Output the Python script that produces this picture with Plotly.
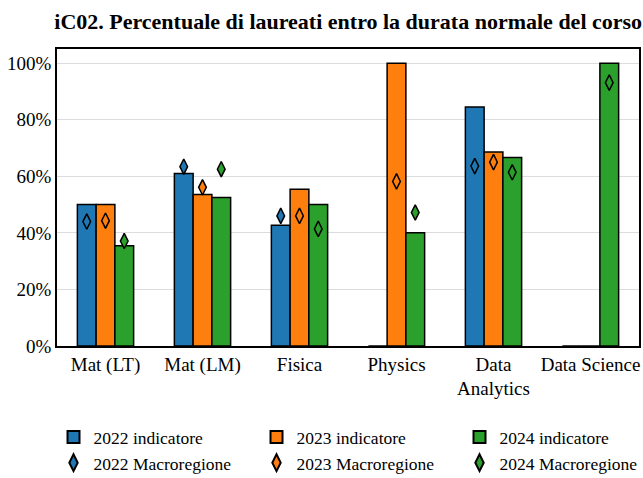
import plotly.graph_objects as go

categories = ["Mat (LT)", "Mat (LM)", "Fisica", "Physics", "Data<br>Analytics", "Data Science"]
years = ["2022", "2023", "2024"]
colors = ["#1f77b4", "#ff7f0e", "#2ca02c"]

ind_2022 = [50.0, 61.0, 42.7, 0.0, 84.5, 0.0]
ind_2023 = [50.0, 53.6, 55.4, 100.0, 68.6, 0.0]
ind_2024 = [35.4, 52.5, 50.0, 40.0, 66.6, 100.0]

mac_2022 = [44.0, 63.4, 46.0, None, 63.6, None]
mac_2023 = [44.3, 56.1, 46.0, 58.2, 65.0, None]
mac_2024 = [37.1, 62.5, 41.4, 47.2, 61.4, 93.1]

y_ticks = [0, 20, 40, 60, 80, 100]
y_tick_labels = ["0%", "20%", "40%", "60%", "80%", "100%"]

indicators = [ind_2022, ind_2023, ind_2024]
macros = [mac_2022, mac_2023, mac_2024]

FONT = "Liberation Serif"

fig = go.Figure()
for y, c, vals in zip(years, colors, indicators):
    fig.add_trace(go.Bar(
        x=categories, y=vals, name=f"{y} indicatore",
        marker=dict(color=c, line=dict(color="black", width=1.5)),
        offsetgroup=y,
    ))
for y, c, vals in zip(years, colors, macros):
    fig.add_trace(go.Scatter(
        x=categories, y=vals, name=f"{y} Macroregione", mode="markers",
        marker=dict(symbol="diamond-tall", size=11, color=c,
                    line=dict(color="black", width=1.5)),
        offsetgroup=y,
    ))

fig.update_layout(
    width=643, height=478,
    margin=dict(l=57, r=4, t=49, b=132, autoexpand=False),
    paper_bgcolor="white", plot_bgcolor="white",
    barmode="group", bargap=0.42, bargroupgap=0,
    scattermode="group", scattergap=0.42,
    font=dict(family=FONT, size=18, color="black"),
    title=dict(text="<b>iC02. Percentuale di laureati entro la durata normale del corso</b>",
               x=0.5415, xanchor="center", y=0.955, yanchor="middle",
               font=dict(family=FONT, size=22, color="black")),
    showlegend=True,
    legend=dict(orientation="h", x=-0.006, xanchor="left", y=-0.246, yanchor="top",
                entrywidth=158, entrywidthmode="pixels",
                font=dict(family=FONT, size=17.5, color="black"),
                tracegroupgap=0, itemsizing="constant"),
)
fig.update_xaxes(
    showline=True, linecolor="black", linewidth=1.5, mirror=True,
    showgrid=False, ticks="", tickfont=dict(family=FONT, size=19),
    range=[-0.5, 5.5],
)
fig.update_yaxes(
    range=[0, 105], tickmode="array", tickvals=y_ticks, ticktext=y_tick_labels,
    showline=True, linecolor="black", linewidth=1.5, mirror=True,
    showgrid=True, gridcolor="#dcdcdc", gridwidth=1, zeroline=False,
    ticks="", tickfont=dict(family=FONT, size=19),
)

fig.write_html(
    "out.html",
    config={"displayModeBar": False},
    post_script="document.body.style.margin='0';document.body.style.overflow='hidden';",
)
